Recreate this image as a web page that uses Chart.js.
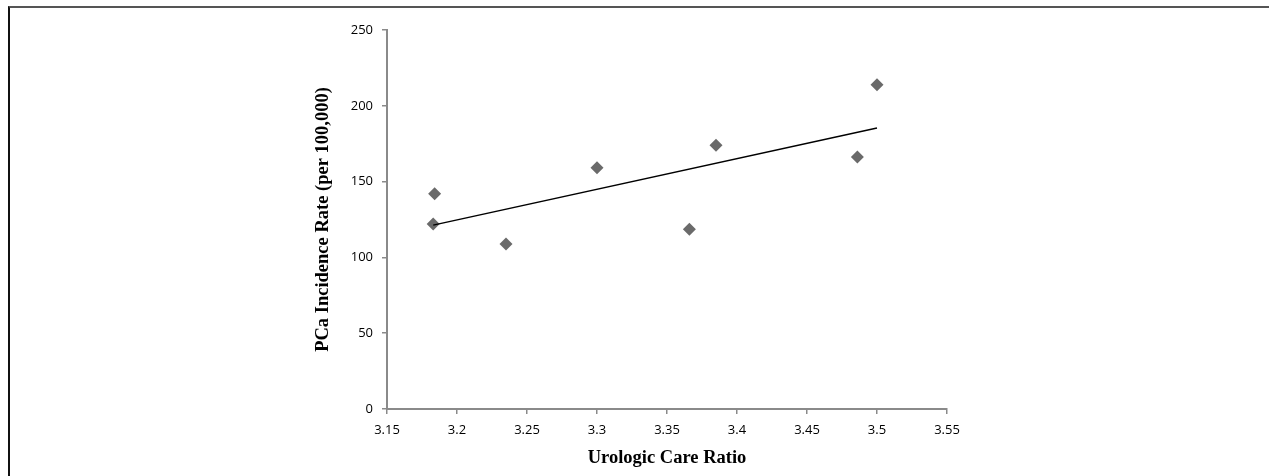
<!DOCTYPE html>
<html>
<head>
<meta charset="utf-8">
<script src="https://cdn.jsdelivr.net/npm/chart.js@4.4.1/dist/chart.umd.min.js"></script>
<style>
  html, body { margin: 0; padding: 0; background: #fff; }
  #wrap { position: relative; width: 1269px; height: 476px; overflow: hidden; }
  #frame {
    position: absolute; left: 8px; top: 6px; right: -4px; bottom: -4px;
    border-top: 2px solid #555; border-left: 2px solid #111;
  }
  canvas { position: absolute; left: 0; top: 0; }
</style>
</head>
<body>
<div id="wrap">
  <div id="frame"></div>
  <canvas id="chart" width="1269" height="476"></canvas>
</div>
<script>
const careRatio = [3.183, 3.184, 3.235, 3.300, 3.366, 3.385, 3.486, 3.500];
const incidence = [122.0, 142.0, 108.8, 159.2, 118.5, 173.9, 166.2, 213.9];

// linear trend line end points, as drawn
const trendX = [3.183, 3.500];
const trendY = [121.3, 185.4];

const xTicks = [3.15, 3.2, 3.25, 3.3, 3.35, 3.4, 3.45, 3.5, 3.55];
const yTicks = [0, 50, 100, 150, 200, 250];

const xTitle = 'Urologic Care Ratio';
const yTitle = 'PCa Incidence Rate (per 100,000)';

const axisGray = '#8a8a8a';
const tickFont = { family: '"Open Sans", "Liberation Sans", sans-serif', size: 13 };
const titleFont = { family: '"Liberation Serif", "Times New Roman", serif', size: 18.5, weight: 'bold' };

const pointsData = careRatio.map((x, i) => ({ x, y: incidence[i] }));
const trendData = trendX.map((x, i) => ({ x, y: trendY[i] }));

new Chart(document.getElementById('chart'), {
  type: 'scatter',
  data: {
    datasets: [
      {
        label: 'Incidence',
        data: pointsData,
        pointStyle: 'rectRot',
        pointRadius: 6.5,
        pointHoverRadius: 6.5,
        backgroundColor: '#6a6a6a',
        borderColor: '#6a6a6a',
        borderWidth: 0,
        showLine: false,
        order: 1,
      },
      {
        label: 'Linear',
        data: trendData,
        showLine: true,
        pointRadius: 0,
        borderColor: '#000',
        borderWidth: 1.5,
        fill: false,
        order: 0,
      },
    ],
  },
  options: {
    responsive: false,
    animation: false,
    events: [],
    layout: { padding: { left: 300, right: 322, top: 30, bottom: 0 } },
    plugins: { legend: { display: false }, tooltip: { enabled: false } },
    scales: {
      x: {
        type: 'linear',
        min: 3.15,
        max: 3.55,
        afterBuildTicks: (s) => { s.ticks = xTicks.map((v) => ({ value: v })); },
        afterFit: (s) => { s.height = 67; },
        border: { color: axisGray, width: 2 },
        grid: { drawOnChartArea: false, drawTicks: true, tickLength: 5, color: axisGray, lineWidth: 1.5 },
        ticks: {
          color: '#000',
          font: tickFont,
          padding: 8,
          maxRotation: 0,
          autoSkip: false,
          callback: (v) => String(+Number(v).toFixed(2)),
        },
        title: { display: true, text: xTitle, color: '#000', font: titleFont, padding: { top: 0, bottom: 7 } },
      },
      y: {
        type: 'linear',
        min: 0,
        max: 250,
        afterBuildTicks: (s) => { s.ticks = yTicks.map((v) => ({ value: v })); },
        afterFit: (s) => { s.width = 87; },
        border: { color: axisGray, width: 2 },
        grid: { drawOnChartArea: false, drawTicks: true, tickLength: 5, color: axisGray, lineWidth: 1.5 },
        ticks: {
          color: '#000',
          font: tickFont,
          padding: 9,
          autoSkip: false,
          callback: (v) => String(v),
        },
        title: { display: true, text: yTitle, color: '#000', font: titleFont, padding: { top: 12, bottom: 0 } },
      },
    },
  },
});
</script>
</body>
</html>
